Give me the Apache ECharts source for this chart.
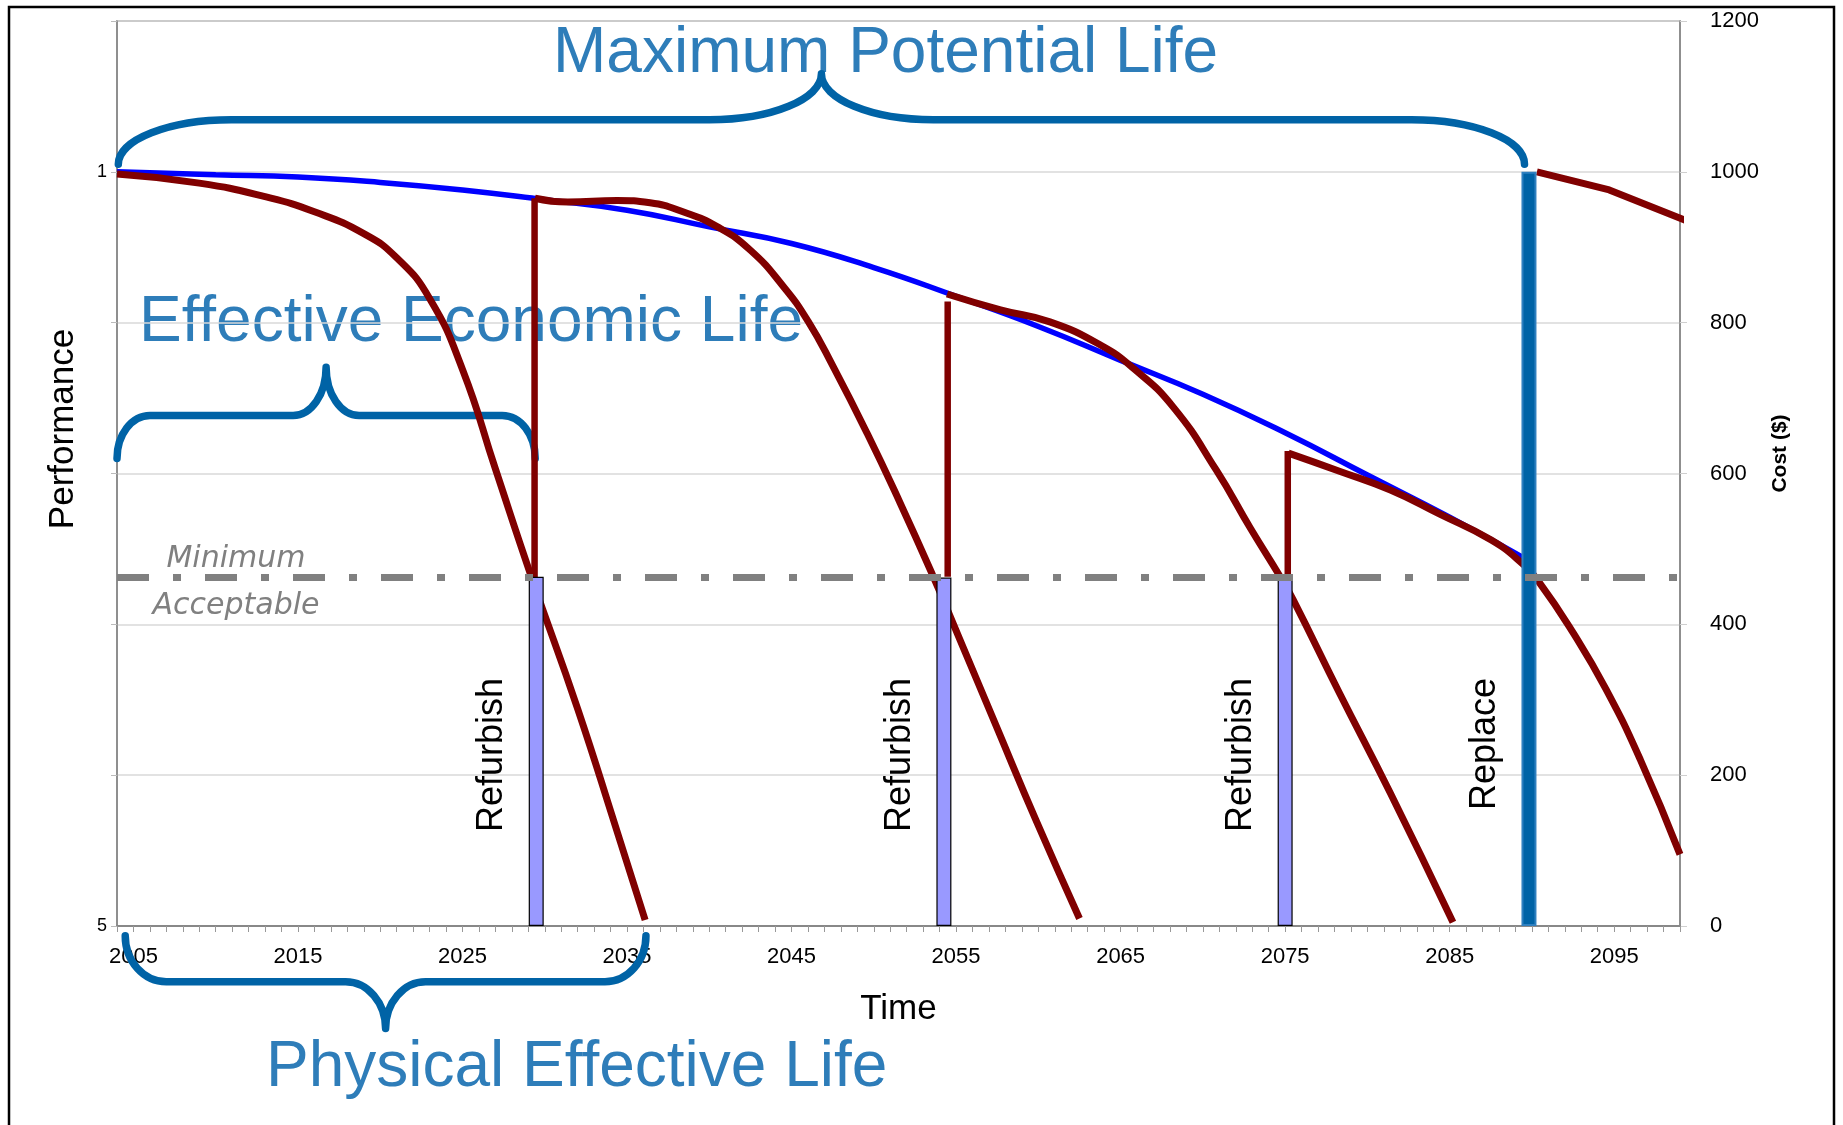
<!DOCTYPE html>
<html>
<head>
<meta charset="utf-8">
<title>Asset life cycle</title>
<script src="https://cdn.jsdelivr.net/npm/echarts@6.0.0/dist/echarts.min.js"></script>
<style>
html,body{margin:0;padding:0;background:#ffffff;}
#chart{width:1843px;height:1125px;}
</style>
</head>
<body>
<div id="chart"></div>
<script>
// ---------------- data ----------------
const xTickLabels = [2005, 2015, 2025, 2035, 2045, 2055, 2065, 2075, 2085, 2095];
const costTickLabels = ['0', '200', '400', '600', '800', '1000', '1200'];
const perfTickValues = [1000, 0];
const perfTickLabels = ['1', '5'];

const maxPotential = [[2004,1000],[2010,996],[2015,993],[2020,986],[2025,976],[2030,963],[2035,949],[2040,927],[2045,905],[2050,873],[2055,835],[2060,795],[2065,750],[2070,705],[2075,654],[2080,598],[2085,542],[2089.5,488]];

const condition1 = [[2004,997],[2009,985],[2013,967],[2016,947],[2019,918],[2021,886],[2023,832],[2025,738],[2027,606],[2029.2,462],[2032,288],[2034.3,132],[2036.1,8]];
const condition2 = [[2029.4,965],[2031.4,960],[2034.4,962],[2036.4,959],[2038.4,947],[2040.5,927],[2042.5,896],[2044.5,848],[2046,802],[2047.5,743],[2049.6,653],[2051.6,561],[2053.6,464],[2054.9,397],[2057.5,262],[2059.9,138],[2062.5,10]];
const condition3 = [[2054.45,838],[2057.7,817],[2060.7,801],[2063.8,770],[2065.8,739],[2068.2,688],[2070.8,605],[2072.9,527],[2074.7,463],[2075.5,432],[2078.3,309],[2081.4,176],[2085.2,5]];
const condition4 = [[2075.2,627],[2078.3,603],[2081.4,578],[2084.4,546],[2087.5,512],[2089.4,481],[2090.4,457],[2092.5,389],[2094.5,314],[2096.6,220],[2099,95]];
const newAsset = [[2090.3,1000],[2094.7,976],[2099.4,935]];

const jumpYears = [2029.38, 2054.49, 2075.16];
const jumpFrom = [462, 463, 463];
const jumpTo = [965, 828, 630];

const refurbishYears = [2029.48, 2054.26, 2075.0];
const refurbishCost = [463, 462, 464];
const replaceYear = 2089.82;
const replaceCost = 1000;

const minAcceptable = 462;

const eventNames = ['Refurbish', 'Refurbish', 'Refurbish', 'Replace'];
const eventYears = [refurbishYears[0], refurbishYears[1], refurbishYears[2], replaceYear];

// ---------------- annotation layout (not data) ----------------
const lifeBraces = [
  { from: 2004.08, to: 2089.55, tip: 1010, bar: 1069, cusp: 1130, corner: 113, half: 112 },
  { from: 2004.0,  to: 2029.42, tip: 620,  bar: 677,  cusp: 741,  corner: 33,  half: 33 },
  { from: 2004.5,  to: 2036.15, tip: -13,  bar: -74,  cusp: -136, corner: 41,  half: 40 }
];
const eventLabelLevel = 329;

const FONT = '"Liberation Sans", Arial, sans-serif';
const RED = '#800000';
const BLUE = '#0000FF';
const DEEP = '#0063A6';
const TXT = '#2E7DB9';

function lineSeries(data, color, width, z, smooth) {
  return {
    type: 'line', data: data, showSymbol: false, symbol: 'none',
    smooth: smooth, silent: true, z: z,
    lineStyle: { color: color, width: width, cap: 'butt', join: 'round' }
  };
}

const series = [];
series.push(lineSeries(maxPotential, BLUE, 5.5, 2, 0.5));
[condition1, condition2, condition3, condition4].forEach(c => series.push(lineSeries(c, RED, 7, 3, 0.5)));
const na = lineSeries(newAsset, RED, 7, 3, false);
na.clip = false;
series.push(na);
jumpYears.forEach((y, i) => series.push(lineSeries([[y, jumpFrom[i]], [y, jumpTo[i]]], RED, 6.5, 3, false)));

const barData = refurbishYears.map((y, i) => ({
  value: [y, refurbishCost[i]],
  itemStyle: { color: '#9999FF', borderColor: '#000000', borderWidth: 1.2 }
}));
barData.push({ value: [replaceYear, replaceCost], itemStyle: { color: DEEP, borderColor: '#2F80C0', borderWidth: 2 } });
series.push({ type: 'bar', name: 'Cost', data: barData, barWidth: 15, z: 4, silent: true });

series.push({
  type: 'line', name: 'Minimum Acceptable', data: [[2004, minAcceptable], [2099, minAcceptable]],
  showSymbol: false, symbol: 'none', silent: true, z: 5,
  lineStyle: { color: '#808080', width: 7, type: [32, 24, 8, 24], cap: 'butt' }
});

series.push({
  type: 'custom', name: 'Life braces', z: 1, clip: false, silent: true,
  data: lifeBraces.map(b => [b.from, b.to, b.tip, b.bar, b.cusp]),
  encode: { x: [0, 1], y: [2, 3, 4] },
  renderItem: function (params, api) {
    const b = lifeBraces[params.dataIndex];
    const pL = api.coord([api.value(0), api.value(2)]);
    const pR = api.coord([api.value(1), api.value(2)]);
    const yBar = api.coord([api.value(0), api.value(3)])[1];
    const yCusp = api.coord([api.value(0), api.value(4)])[1];
    const xL = pL[0], xR = pR[0], yTip = pL[1];
    const xM = (xL + xR) / 2, cw = b.corner, hw = b.half, k = 0.5523;
    const f = v => v.toFixed(2);
    const d = [
      'M', f(xL), f(yTip),
      'C', f(xL), f(yTip + k * (yBar - yTip)), f(xL + cw - k * cw), f(yBar), f(xL + cw), f(yBar),
      'L', f(xM - hw), f(yBar),
      'C', f(xM - hw + k * hw), f(yBar), f(xM), f(yCusp - k * (yCusp - yBar)), f(xM), f(yCusp),
      'C', f(xM), f(yCusp - k * (yCusp - yBar)), f(xM + hw - k * hw), f(yBar), f(xM + hw), f(yBar),
      'L', f(xR - cw), f(yBar),
      'C', f(xR - cw + k * cw), f(yBar), f(xR), f(yTip + k * (yBar - yTip)), f(xR), f(yTip)
    ].join(' ');
    return {
      type: 'path', shape: { pathData: d },
      style: { fill: 'none', stroke: DEEP, lineWidth: 7.5, lineCap: 'round', lineJoin: 'round' }
    };
  }
});

series.push({
  type: 'custom', name: 'Event labels', z: 1, clip: false, silent: true,
  data: eventYears.map(y => [y, eventLabelLevel]),
  encode: { x: 0, y: 1 },
  renderItem: function (params, api) {
    const p = api.coord([api.value(0), api.value(1)]);
    return {
      type: 'text', x: p[0] - 26, y: p[1], rotation: Math.PI / 2,
      style: { text: eventNames[params.dataIndex], fontSize: 36, fontFamily: FONT, fill: '#000000', align: 'right', verticalAlign: 'bottom' }
    };
  }
});

const option = {
  animation: false,
  backgroundColor: '#ffffff',
  grid: { left: 117, right: 163, top: 21, bottom: 199, show: true, borderColor: '#888888', borderWidth: 1.5, containLabel: false, outerBoundsMode: 'none' },
  xAxis: {
    type: 'value', min: 2004, max: 2099, interval: 1,
    name: 'Time', nameLocation: 'middle', nameGap: 66,
    nameTextStyle: { fontSize: 35, fontFamily: FONT, color: '#000000' },
    axisLine: { show: true, onZero: false, lineStyle: { color: '#888888', width: 2 } },
    axisTick: { show: true, length: 6, lineStyle: { color: '#999999', width: 1 } },
    axisLabel: {
      margin: 20, fontSize: 22, fontFamily: FONT, color: '#000000',
      formatter: function (v) {
        const r = Math.round(v);
        return (Math.abs(v - r) < 1e-6 && xTickLabels.indexOf(r) >= 0) ? String(r) : '';
      }
    },
    splitLine: { show: false }
  },
  yAxis: [
    {
      type: 'value', position: 'left', min: 0, max: 1200, interval: 200,
      name: 'Performance', nameLocation: 'middle', nameGap: 36,
      nameTextStyle: { fontSize: 35, fontFamily: FONT, color: '#000000', padding: [0, 0, 0, 89] },
      axisLine: { show: true, lineStyle: { color: '#888888', width: 1.5 } },
      axisTick: { show: true, length: 6, lineStyle: { color: '#BBBBBB' } },
      axisLabel: {
        margin: 10, fontSize: 18, fontFamily: FONT, color: '#000000',
        formatter: function (v) { const i = perfTickValues.indexOf(v); return i >= 0 ? perfTickLabels[i] : ''; }
      },
      splitLine: { show: true, lineStyle: { color: '#D9D9D9', width: 1.5 } }
    },
    {
      type: 'value', position: 'right', min: 0, max: 1200, interval: 200,
      name: 'Cost ($)', nameLocation: 'middle', nameGap: 80,
      nameTextStyle: { fontSize: 21, fontWeight: 'bold', fontFamily: FONT, color: '#000000', padding: [0, 0, 0, 40] },
      axisLine: { show: true, lineStyle: { color: '#888888', width: 1.5 } },
      axisTick: { show: true, length: 7, lineStyle: { color: '#CFCFCF' } },
      axisLabel: {
        margin: 30, fontSize: 22, fontFamily: FONT, color: '#000000',
        formatter: function (v) { return costTickLabels[Math.round(v / 200)]; }
      },
      splitLine: { show: false }
    }
  ],
  graphic: [
    { type: 'rect', z: 0, silent: true, shape: { x: 9, y: 7, width: 1825, height: 1140 }, style: { fill: 'none', stroke: '#000000', lineWidth: 2.5 } },
    { type: 'text', z: 0, silent: true, x: 553, y: 54, style: { text: 'Maximum Potential Life', fontSize: 64, fontFamily: FONT, fill: TXT, align: 'left', verticalAlign: 'middle' } },
    { type: 'text', z: 0, silent: true, x: 139, y: 323.5, style: { text: 'Effective Economic Life', fontSize: 64, fontFamily: FONT, fill: TXT, align: 'left', verticalAlign: 'middle' } },
    { type: 'text', z: 0, silent: true, x: 266, y: 1068, style: { text: 'Physical Effective Life', fontSize: 64, fontFamily: FONT, fill: TXT, align: 'left', verticalAlign: 'middle' } },
    { type: 'text', z: 0, silent: true, x: 236, y: 559, style: { text: 'Minimum', fontSize: 30, fontStyle: 'italic', fontFamily: '"DejaVu Sans", sans-serif', fill: '#808080', align: 'center', verticalAlign: 'middle' } },
    { type: 'text', z: 0, silent: true, x: 236, y: 606, style: { text: 'Acceptable', fontSize: 30, fontStyle: 'italic', fontFamily: '"DejaVu Sans", sans-serif', fill: '#808080', align: 'center', verticalAlign: 'middle' } }
  ],
  series: series
};

const chart = echarts.init(document.getElementById('chart'), null, { renderer: 'canvas' });
chart.setOption(option);
</script>
</body>
</html>
